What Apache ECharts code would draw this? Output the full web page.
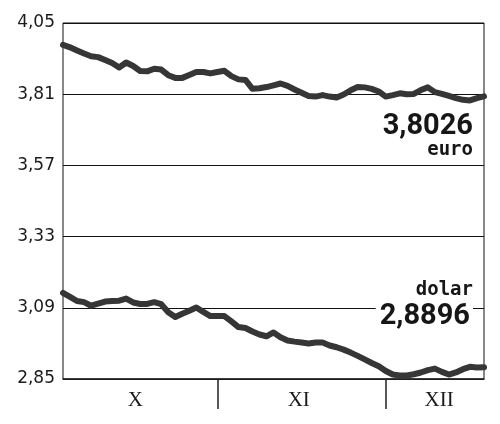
<!DOCTYPE html>
<html><head><meta charset="utf-8">
<script src="https://cdn.jsdelivr.net/npm/echarts@6/dist/echarts.min.js"></script>
<style>html,body{margin:0;padding:0;background:#fff}#c{width:500px;height:424px}</style>
</head><body><div id="c"></div>
<script>
// month names on the bottom band, boundaries and label positions (in point index units)
const monthNames = ['X', 'XI', 'XII'];
const monthBoundaries = [22, 46];
const monthLabelAt = [10.3, 33.6, 53.6];
// y-axis ticks
const yMin = 2.85, yMax = 4.05, yStep = 0.24;
// daily rates
const euro = [
  3.976,3.968,3.957,3.947,3.938,3.935,3.925,3.915,3.900,3.917,
  3.905,3.888,3.887,3.896,3.893,3.874,3.865,3.865,3.875,3.885,
  3.885,3.880,3.885,3.889,3.871,3.860,3.858,3.828,3.830,3.834,
  3.840,3.846,3.838,3.826,3.815,3.804,3.802,3.807,3.802,3.799,
  3.809,3.823,3.834,3.833,3.828,3.819,3.802,3.807,3.813,3.810,
  3.811,3.824,3.833,3.817,3.811,3.804,3.797,3.791,3.789,3.797,3.8026
];
const dolar = [
  3.140,3.127,3.113,3.109,3.097,3.104,3.111,3.113,3.114,3.121,
  3.108,3.103,3.103,3.109,3.102,3.075,3.059,3.070,3.080,3.091,
  3.076,3.062,3.062,3.062,3.044,3.025,3.022,3.010,3.000,2.994,
  3.007,2.991,2.980,2.976,2.973,2.970,2.973,2.973,2.963,2.957,
  2.949,2.939,2.928,2.916,2.904,2.893,2.877,2.865,2.862,2.862,
  2.866,2.872,2.880,2.885,2.874,2.865,2.872,2.883,2.891,2.889,2.8896
];
const seriesNames = ['euro', 'dolar'];

const toPairs = arr => arr.map((v, i) => [i, v]);
const fmt4 = v => v.toFixed(4).replace('.', ',');
const lastIdx = euro.length - 1;

const lineStyle = { color: '#363636', width: 6, cap: 'round', join: 'round' };
const numFont = { fontFamily: 'Roboto', fontWeight: 'bold', fontSize: 29, color: '#161616', align: 'right' };
const nameFont = { fontFamily: 'DejaVu Sans Mono', fontWeight: 'bold', fontSize: 19, color: '#161616', align: 'right' };

const chart = echarts.init(document.getElementById('c'), null, { renderer: 'canvas' });
chart.setOption({
  animation: false,
  backgroundColor: '#ffffff',
  grid: { left: 63, right: 16, top: 23, bottom: 45, show: true, borderColor: '#111', borderWidth: 1, backgroundColor: 'transparent' },
  xAxis: {
    type: 'value', min: 0, max: lastIdx,
    axisLine: { show: true, lineStyle: { color: '#222', width: 1.5 } },
    axisTick: { show: true, customValues: monthBoundaries, length: 30, inside: false, lineStyle: { color: '#222', width: 1.5 } },
    axisLabel: {
      show: true, customValues: monthLabelAt, margin: 11,
      fontFamily: 'Liberation Serif', fontSize: 21, color: '#1a1a1a',
      formatter: v => { const k = monthLabelAt.indexOf(v); return k >= 0 ? monthNames[k] : ''; }
    },
    splitLine: { show: false }
  },
  yAxis: {
    type: 'value', min: yMin, max: yMax, interval: yStep,
    axisLine: { show: false }, axisTick: { show: false },
    axisLabel: { fontFamily: 'DejaVu Sans', fontSize: 17, color: '#1a1a1a', margin: 8,
      formatter: v => v.toFixed(2).replace('.', ',') },
    splitLine: { show: true, lineStyle: { color: '#111', width: 1 } }
  },
  series: [
    {
      name: seriesNames[0], type: 'line', data: toPairs(euro), showSymbol: false, symbol: 'none',
      lineStyle: lineStyle, z: 3,
      markPoint: {
        symbol: 'circle', symbolSize: 1, itemStyle: { color: 'rgba(0,0,0,0)' }, z: 5,
        data: [{ coord: [lastIdx, euro[lastIdx]], value: euro[lastIdx] }],
        label: {
          show: true, position: 'inside', align: 'right', verticalAlign: 'top', offset: [-11, 15],
          formatter: p => '{v|' + fmt4(p.value) + '}\n{n|' + seriesNames[0] + '}',
          rich: { v: Object.assign({ lineHeight: 30 }, numFont), n: Object.assign({ lineHeight: 18 }, nameFont) }
        }
      }
    },
    {
      name: seriesNames[1], type: 'line', data: toPairs(dolar), showSymbol: false, symbol: 'none',
      lineStyle: lineStyle, z: 3,
      markPoint: {
        symbol: 'circle', symbolSize: 1, itemStyle: { color: 'rgba(0,0,0,0)' }, z: 5,
        data: [{ coord: [lastIdx, dolar[lastIdx]], value: dolar[lastIdx] }],
        label: {
          show: true, position: 'inside', align: 'right', verticalAlign: 'bottom', offset: [-11, -36],
          formatter: p => '{n|' + seriesNames[1] + '}\n{v|' + fmt4(p.value) + '}',
          rich: {
            n: Object.assign({ lineHeight: 22 }, nameFont),
            v: Object.assign({ lineHeight: 30, backgroundColor: '#fff', padding: [0, 3, 0, 4] }, numFont)
          }
        }
      }
    }
  ]
});
</script>
</body></html>
